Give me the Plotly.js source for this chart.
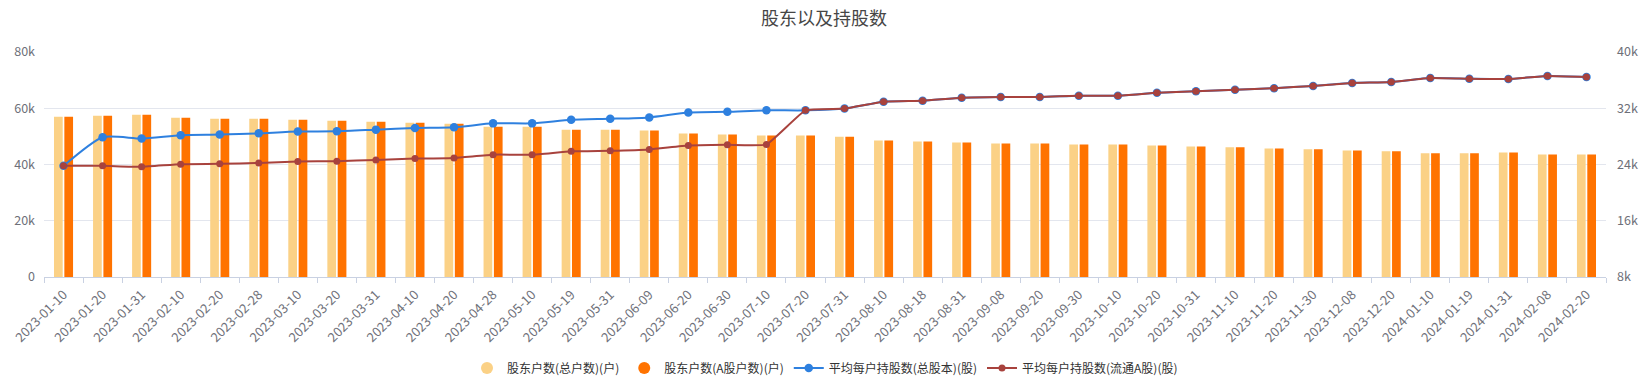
<!DOCTYPE html>
<html>
<head>
<meta charset="utf-8">
<script src="https://cdn.plot.ly/plotly-3.0.1.min.js"></script>
<style>
html,body{margin:0;padding:0;background:#fff;}
#chart{width:1648px;height:383px;}
</style>
</head>
<body>
<div id="chart"></div>
<script>
const dates = ["2023-01-10","2023-01-20","2023-01-31","2023-02-10","2023-02-20","2023-02-28","2023-03-10","2023-03-20","2023-03-31","2023-04-10","2023-04-20","2023-04-28","2023-05-10","2023-05-19","2023-05-31","2023-06-09","2023-06-20","2023-06-30","2023-07-10","2023-07-20","2023-07-31","2023-08-10","2023-08-18","2023-08-31","2023-09-08","2023-09-20","2023-09-30","2023-10-10","2023-10-20","2023-10-31","2023-11-10","2023-11-20","2023-11-30","2023-12-08","2023-12-20","2024-01-10","2024-01-19","2024-01-31","2024-02-08","2024-02-20"];

const holdersTotal = [56960,57300,57660,56600,56260,56260,55900,55550,55200,54850,54500,53450,53450,52400,52400,52050,51000,50650,50300,50300,49900,48500,48200,47800,47500,47500,47100,47130,46800,46400,46100,45700,45400,45000,44700,44000,44000,44300,43600,43600];

const holdersA = [56960,57300,57660,56600,56260,56260,55900,55550,55200,54850,54500,53450,53450,52400,52400,52050,51000,50650,50300,50300,49900,48500,48200,47800,47500,47500,47100,47130,46800,46400,46100,45700,45400,45000,44700,44000,44000,44300,43600,43600];

const avgTotal = [23810,27880,27700,28160,28260,28440,28680,28720,28960,29190,29290,29850,29850,30360,30500,30700,31400,31500,31700,31700,31950,32940,33080,33500,33600,33600,33780,33780,34200,34430,34620,34850,35180,35600,35740,36300,36200,36160,36580,36440];

const avgFloat = [23810,23810,23670,24050,24090,24230,24420,24470,24650,24840,24940,25400,25400,25870,25960,26150,26700,26800,26850,31700,31950,32940,33080,33500,33600,33600,33780,33780,34200,34430,34620,34850,35180,35600,35740,36300,36200,36160,36580,36440];

const names = ["股东户数(总户数)(户)","股东户数(A股户数)(户)","平均每户持股数(总股本)(股)","平均每户持股数(流通A股)(股)"];
const colors = ["#fbd186","#ff7300","#2e80df","#a8423d"];

const traces = [
  {type:"bar", x:dates, y:holdersTotal, name:names[0], marker:{color:colors[0]}, showlegend:false, legendgroup:"a"},
  {type:"bar", x:dates, y:holdersA, name:names[1], marker:{color:colors[1]}, showlegend:false, legendgroup:"b"},
  {type:"scatter", mode:"markers", x:[dates[0]], y:[null], name:names[0], marker:{color:colors[0], size:12, symbol:"circle"}, legendgroup:"a", hoverinfo:"skip"},
  {type:"scatter", mode:"markers", x:[dates[0]], y:[null], name:names[1], marker:{color:colors[1], size:12, symbol:"circle"}, legendgroup:"b", hoverinfo:"skip"},
  {type:"scatter", mode:"lines+markers", x:dates, y:avgTotal, name:names[2], yaxis:"y2",
   line:{color:colors[2], width:2, shape:"spline", smoothing:0.6}, marker:{color:colors[2], size:8.5, symbol:"circle"}},
  {type:"scatter", mode:"lines+markers", x:dates, y:avgFloat, name:names[3], yaxis:"y2",
   line:{color:colors[3], width:2, shape:"spline", smoothing:0.35}, marker:{color:colors[3], size:7, symbol:"circle"}}
];

const layout = {
  width:1648, height:383,
  margin:{l:44, r:42, t:52, b:106, autoexpand:false},
  paper_bgcolor:"#fff", plot_bgcolor:"#fff",
  font:{family:"'Noto Sans CJK SC', 'Noto Sans', sans-serif", size:12, color:"#6e7079"},
  title:{text:"股东以及持股数", x:0.5, xanchor:"center", y:0.952, yanchor:"middle", font:{size:18, color:"#464646"}},
  barmode:"group", bargap:0.47, bargroupgap:0.16,
  xaxis:{type:"category", range:[-0.5, dates.length-0.5], autorange:false, automargin:false, showline:true, linecolor:"#c9d1e2", linewidth:1, ticks:"outside", tickson:"boundaries", ticklen:5, tickcolor:"#c9d1e2", tickangle:-45, showgrid:false, tickfont:{size:13, color:"#6e7079"}, ticklabelstandoff:4, fixedrange:true},
  yaxis:{range:[0,80000], dtick:20000, tick0:0, tickformat:"~s", automargin:false, showgrid:true, gridcolor:"#e3e6ee", zeroline:false, showline:false, ticklabelstandoff:8, tickfont:{size:12.5, color:"#6e7079"}},
  yaxis2:{range:[8000,40000], dtick:8000, tick0:8000, tickformat:"~s", automargin:false, overlaying:"y", side:"right", showgrid:false, zeroline:false, showline:false, ticklabelstandoff:10, tickfont:{size:12.5, color:"#6e7079"}},
  legend:{orientation:"h", x:0.5, xanchor:"center", y:-0.404, yanchor:"middle", font:{size:12, color:"#333"}, traceorder:"normal"},
  showlegend:true
};

Plotly.newPlot("chart", traces, layout, {displayModeBar:false, staticPlot:true});
</script>
</body>
</html>
